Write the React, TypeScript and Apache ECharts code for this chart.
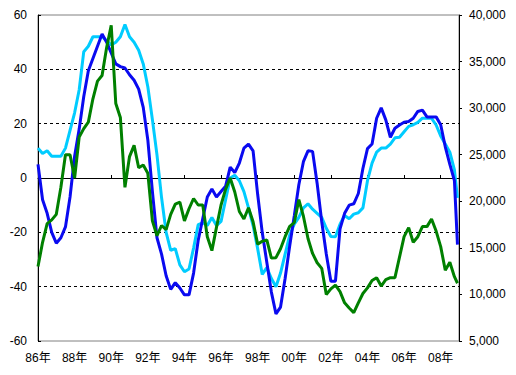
import React, { useEffect, useRef } from 'react';
import * as echarts from 'echarts';

// Sample positions: months since Jan 1986 (quarterly readings, last one = Dec 2008)
const sampleMonths: number[] = Array.from({ length: 92 }, (_, i) => i * 3).concat([275]);

const xTickLabels = ['86年', '88年', '90年', '92年', '94年', '96年', '98年', '00年', '02年', '04年', '06年', '08年'];

// Blue line (left axis)
const blueValues = [
  5, -8, -13, -20, -24, -22, -18, -7, 8, 18,
  30, 39.5, 44, 48.5, 53, 50, 46, 42, 41, 40.5,
  38, 36, 32.7, 26, 14, -5, -22, -28, -36, -41,
  -38.5, -40.5, -43, -43, -35, -23, -15, -7, -4, -7,
  -5, -3, 4, 2, 5.5, 11, 12.5, 10, -6, -20,
  -31, -42, -50, -47.5, -37, -25, -14, -2.5, 6, 10,
  9.8, -2, -16, -28, -38, -38, -18.7, -13, -10, -9.5,
  -5.7, 3.5, 10.8, 12.5, 22, 25.8, 21.4, 15, 18.3, 19.5,
  20.5, 20.8, 22, 24.5, 25, 22.5, 22.5, 22.5, 19.6, 11.5,
  5, -1, -24.5,
];

// Cyan line (left axis)
const cyanValues = [
  11, 9, 10, 8, 8, 8, 11, 17.5, 24, 32.5,
  46.5, 48.5, 52, 52, 52, 50.5, 49, 50, 52, 56.5,
  52, 50, 47, 42, 33.6, 21.5, 8.5, -7.2, -20, -26.6,
  -26, -32, -34.5, -33.5, -25.8, -17.2, -16.5, -17.5, -14.5, -17.5,
  -16, -8, 0, 1, -1, -5, -11, -17.5, -26, -35.5,
  -33, -37, -40, -35, -28, -21, -17, -14.5, -11, -9.5,
  -11.5, -13, -14.5, -18.5, -21.5, -21.6, -17, -13.8, -15, -13.3,
  -12.8, -11, -1, 5.5, 9.5, 11, 11, 12.5, 14.8, 15,
  17, 19, 19.6, 20.5, 22, 22, 22, 19.5, 15.5, 12.5,
  9.5, 3, -7.3,
];

// Green line (right axis)
const greenValues = [
  13000, 15600, 17600, 18000, 18600, 21500, 25000, 25000, 22500, 26900,
  27800, 28500, 31000, 32900, 33500, 36500, 38900, 30500, 29000, 21500,
  24800, 26000, 23600, 23900, 23000, 17900, 16300, 17400, 16950, 18600,
  19700, 19900, 17900, 19200, 20300, 19600, 19600, 16200, 14700, 17200,
  19600, 21300, 22500, 21000, 18900, 18100, 19300, 17800, 15400, 15700,
  15860, 13900, 13950, 14900, 16200, 17300, 17700, 20180, 18400, 16000,
  14400, 13400, 12800, 10000, 10600, 11000, 10300, 9100, 8550, 8050,
  9100, 10100, 10700, 11500, 11800, 10900, 11580, 11800, 11800, 14000,
  16200, 17170, 15600, 16200, 17280, 17280, 18100, 16800, 15130, 12600,
  13450, 11900, 11200,
];

const FONT = "'Liberation Sans', 'Noto Sans CJK JP', sans-serif";

const toPairs = (vals: number[]) => sampleMonths.map((m, i) => [m, vals[i]]);

export default function App() {
  const ref = useRef<HTMLDivElement>(null);

  useEffect(() => {
    if (!ref.current) return;
    const chart = echarts.init(ref.current, undefined, { renderer: 'svg' });
    const labelStyle = { color: '#000', fontSize: 12, fontFamily: FONT };
    const option: any = {
      animation: false,
      grid: {
        left: 38,
        right: 57,
        top: 15,
        bottom: 34,
        show: true,
        borderColor: '#808080',
        borderWidth: 1,
        backgroundColor: 'transparent',
      },
      xAxis: [
        {
          type: 'value',
          min: 0,
          max: 276,
          interval: 24,
          position: 'bottom',
          axisLine: { show: false, onZero: false },
          axisTick: { show: false },
          splitLine: { show: false },
          axisLabel: {
            ...labelStyle,
            margin: 11,
            showMaxLabel: false,
            formatter: (v: number) => xTickLabels[v / 24] ?? '',
          },
        },
        {
          type: 'value',
          min: 0,
          max: 276,
          interval: 24,
          position: 'bottom',
          axisLine: { show: true, onZero: true, onZeroAxisIndex: 0, lineStyle: { color: '#000', width: 1 } },
          axisTick: { show: true, inside: true, length: 3, lineStyle: { color: '#000', width: 1 } },
          axisLabel: { show: false },
          splitLine: { show: false },
        },
      ],
      yAxis: [
        {
          type: 'value',
          min: -60,
          max: 60,
          interval: 20,
          position: 'left',
          axisLine: { show: true, onZero: false, lineStyle: { color: '#000', width: 1 } },
          axisTick: { show: true, inside: true, length: 3, lineStyle: { color: '#000' } },
          axisLabel: { ...labelStyle, margin: 11 },
          splitLine: {
            show: true,
            showMinLine: false,
            showMaxLine: false,
            lineStyle: { color: '#000', width: 1, type: [3, 3] },
          },
        },
        {
          type: 'value',
          min: 5000,
          max: 40000,
          interval: 5000,
          position: 'right',
          axisLine: { show: true, onZero: false, lineStyle: { color: '#000', width: 1 } },
          axisTick: { show: true, inside: false, length: 3, lineStyle: { color: '#000' } },
          axisLabel: {
            ...labelStyle,
            margin: 10,
            formatter: (v: number) => v.toLocaleString('en-US'),
          },
          splitLine: { show: false },
        },
      ],
      series: [
        {
          name: 'cyan',
          type: 'line',
          xAxisIndex: 0,
          yAxisIndex: 0,
          data: toPairs(cyanValues),
          showSymbol: false,
          lineStyle: { color: '#00CCFF', width: 3 },
          itemStyle: { color: '#00CCFF' },
          z: 3,
        },
        {
          name: 'blue',
          type: 'line',
          xAxisIndex: 0,
          yAxisIndex: 0,
          data: toPairs(blueValues),
          showSymbol: false,
          lineStyle: { color: '#0A0AF0', width: 3 },
          itemStyle: { color: '#0A0AF0' },
          z: 4,
        },
        {
          name: 'green',
          type: 'line',
          xAxisIndex: 0,
          yAxisIndex: 1,
          data: toPairs(greenValues),
          showSymbol: false,
          lineStyle: { color: '#008000', width: 3 },
          itemStyle: { color: '#008000' },
          z: 5,
        },
      ],
    };
    chart.setOption(option);
    return () => chart.dispose();
  }, []);

  return (
    <div
      ref={ref}
      style={{ position: 'absolute', left: 0, top: 0, width: 516, height: 375, background: '#fff' }}
    />
  );
}
